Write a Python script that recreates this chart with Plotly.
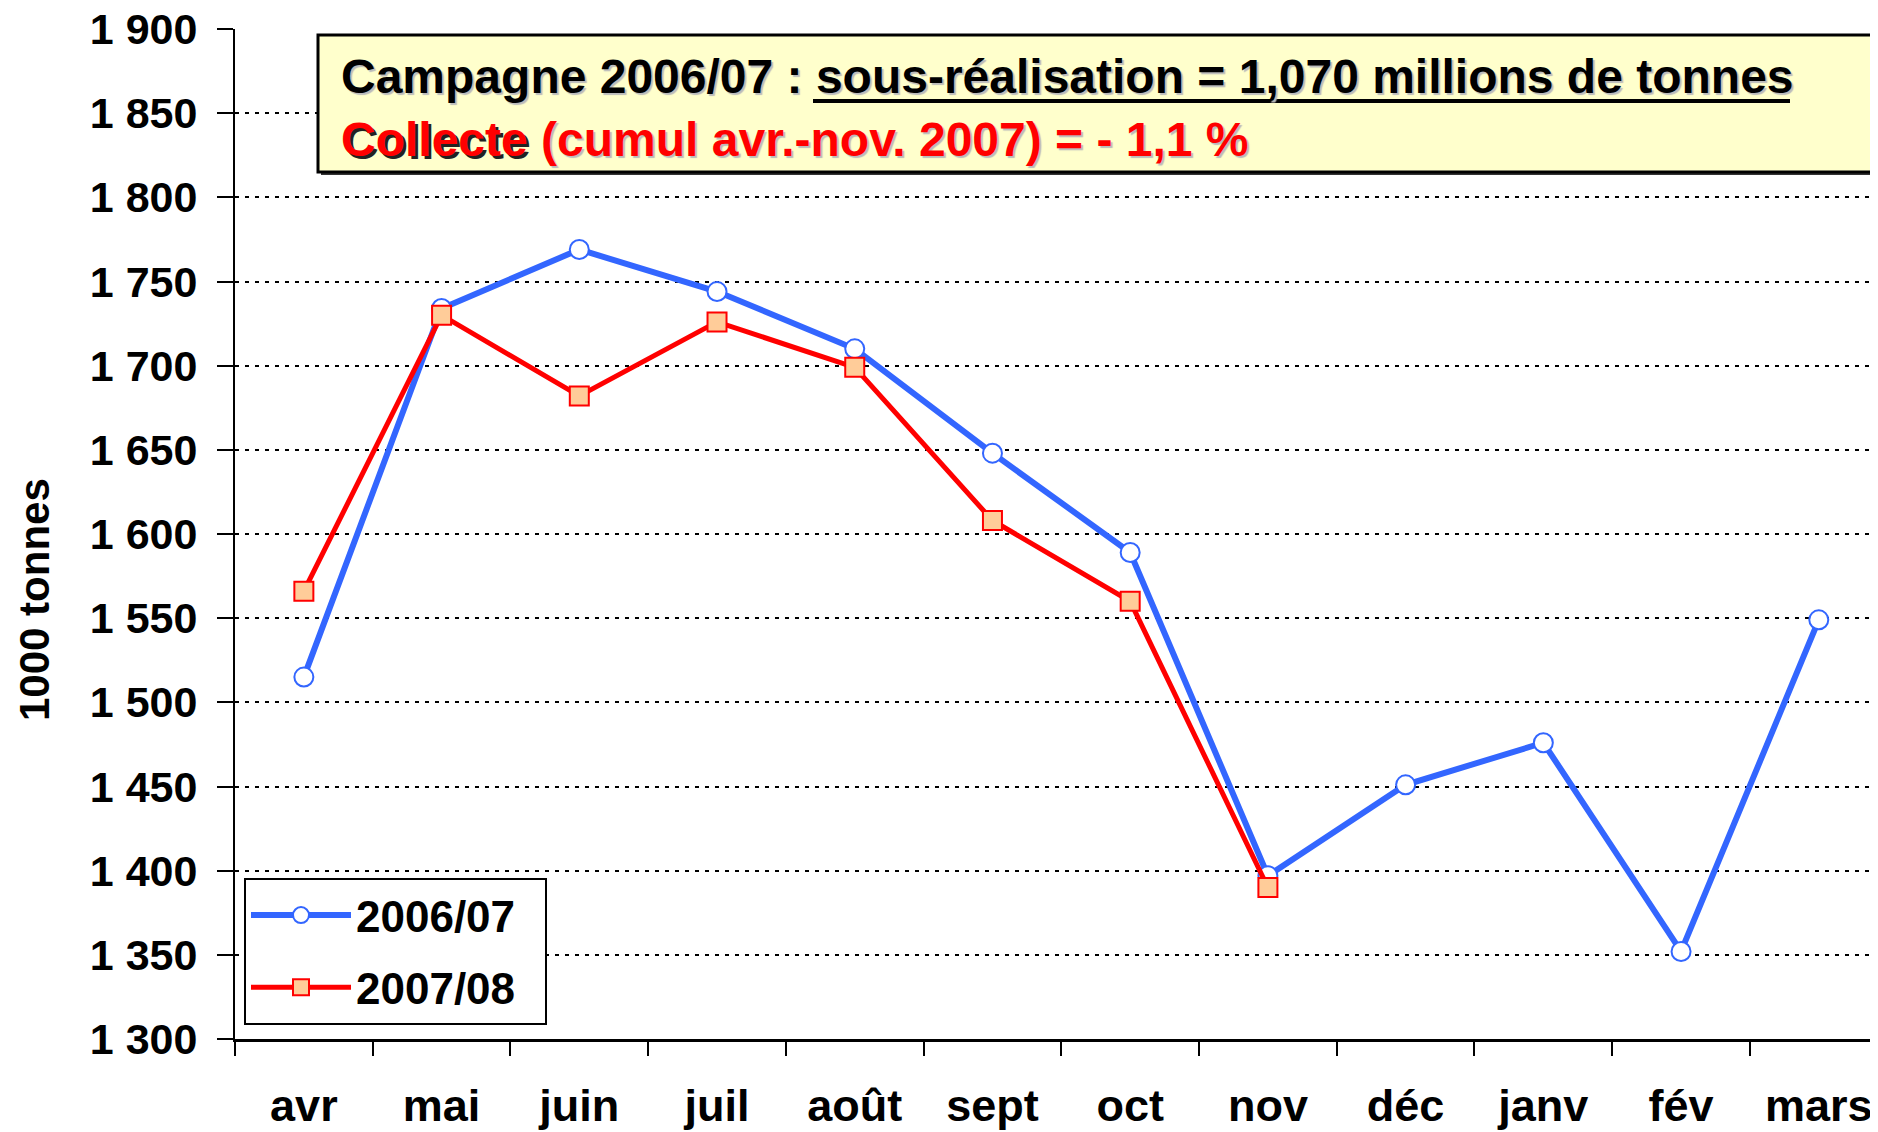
import plotly.graph_objects as go

months = ["avr", "mai", "juin", "juil", "août", "sept", "oct", "nov", "déc", "janv", "fév", "mars"]
s0607 = [1515, 1734, 1769, 1744, 1710, 1648, 1589, 1397, 1451, 1476, 1352, 1549]
s0708 = [1566, 1730, 1682, 1726, 1699, 1608, 1560, 1390]
ytick_vals = [1300, 1350, 1400, 1450, 1500, 1550, 1600, 1650, 1700, 1750, 1800, 1850, 1900]
ytick_text = ["1 300", "1 350", "1 400", "1 450", "1 500", "1 550", "1 600", "1 650",
              "1 700", "1 750", "1 800", "1 850", "1 900"]

FONT = "Arial, 'Liberation Sans', sans-serif"
# the page body has an 8px margin, so the figure is placed at (8, 8) in the window
OFF = 8
W, H = 1878 - OFF, 1132 - OFF
L, R, T, B = 235 - OFF, 0, 29 - OFF, 93
PW, PH = W - L - R, H - T - B

def px(x):
    # x given in window pixels
    return (x - OFF - L) / PW

def py(y):
    # y given in window pixels
    return (H - B - (y - OFF)) / PH

fig = go.Figure()
fig.add_trace(go.Scatter(
    x=months, y=s0607, name="2006/07\u00a0\u00a0", mode="lines+markers",
    line=dict(color="#3366FF", width=6),
    marker=dict(symbol="circle", size=19, color="white", line=dict(color="#3366FF", width=2)),
    legendgroup="a",
))
fig.add_trace(go.Scatter(
    x=months[:len(s0708)], y=s0708, name="2007/08\u00a0\u00a0", mode="lines+markers",
    line=dict(color="#FF0000", width=5),
    marker=dict(symbol="square", size=19, color="#FFCC99", line=dict(color="#FF0000", width=2)),
    legendgroup="b",
))

# title box (shadow + box)
fig.add_shape(type="rect", xref="paper", yref="paper",
              x0=px(321), x1=1.1, y0=py(175), y1=py(38),
              fillcolor="#333333", line=dict(width=0), layer="above")
fig.add_shape(type="rect", xref="paper", yref="paper",
              x0=px(318), x1=1.1, y0=py(172), y1=py(35),
              fillcolor="#FFFFCC", line=dict(color="black", width=3), layer="above")

fig.add_annotation(
    xref="paper", yref="paper", x=px(339), y=py(76), xanchor="left", yanchor="middle",
    showarrow=False,
    text="<b>Campagne 2006/07 : sous-réalisation = 1,070 millions de tonnes</b>",
    font=dict(family=FONT, size=48, color="black", shadow="2px 2px 1px #bbbbbb"),
)
# underline under "sous-réalisation = 1,070 millions de tonnes"
fig.add_shape(type="line", xref="paper", yref="paper",
              x0=px(813), x1=px(1790), y0=py(101), y1=py(101),
              line=dict(color="black", width=4), layer="above")
fig.add_annotation(
    xref="paper", yref="paper", x=px(339), y=py(139), xanchor="left", yanchor="middle",
    showarrow=False,
    text="<b><span style=\"text-shadow:3px 3px 0px #222222\">Collecte</span> (cumul avr.-nov. 2007) = - 1,1 %</b>",
    font=dict(family=FONT, size=48, color="#FF0000", shadow="2px 2px 1px #bbbbbb"),
)
# y-axis title
fig.add_annotation(
    xref="paper", yref="paper", x=px(34), y=py(600), xanchor="center", yanchor="middle",
    showarrow=False, textangle=-90,
    text="<b>1000 tonnes</b>",
    font=dict(family=FONT, size=42, color="black"),
)

fig.update_layout(
    width=W, height=H,
    margin=dict(l=L, r=R, t=T, b=B, pad=0, autoexpand=False),
    paper_bgcolor="white", plot_bgcolor="white",
    font=dict(family=FONT, color="black"),
    showlegend=True,
    legend=dict(
        x=px(244), y=py(1025), xanchor="left", yanchor="bottom",
        bgcolor="white", bordercolor="black", borderwidth=2,
        font=dict(family=FONT, size=44, color="black", weight="bold"),
        tracegroupgap=12, itemwidth=100,
    ),
    xaxis=dict(
        type="category", categoryorder="array", categoryarray=months,
        range=[-0.5, 11.43], tickson="boundaries", automargin=False,
        showgrid=False, zeroline=False,
        showline=True, linecolor="black", linewidth=3,
        ticks="outside", ticklen=14, tickwidth=1.5, tickcolor="black",
        tickfont=dict(family=FONT, size=45, color="black", weight="bold"),
        ticklabelstandoff=25, ticklabeloverflow="allow",
    ),
    yaxis=dict(
        range=[1300, 1900], tickvals=ytick_vals, ticktext=ytick_text, automargin=False,
        showgrid=True, gridcolor="black", gridwidth=2, griddash="4px,6px",
        zeroline=False,
        showline=True, linecolor="black", linewidth=2,
        ticks="outside", ticklen=16, tickwidth=2, tickcolor="black",
        tickfont=dict(family=FONT, size=43, color="black", weight="bold"),
        ticklabelstandoff=11, ticklabeloverflow="allow",
    ),
)

fig.write_html("out.html")
